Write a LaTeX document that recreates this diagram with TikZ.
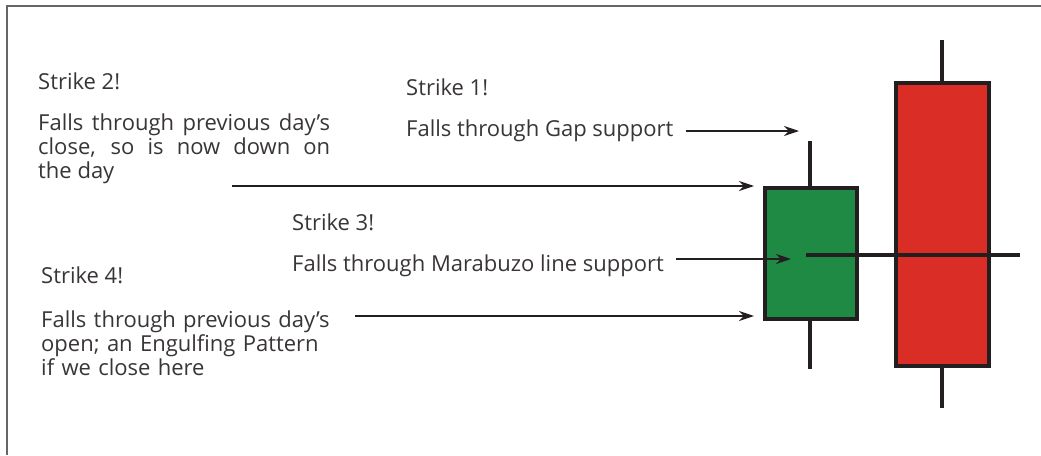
\documentclass[tikz,border=0pt]{standalone}
\usepackage{fontspec}
\setmainfont{Open Sans}
\usetikzlibrary{arrows.meta}
\definecolor{bull}{HTML}{1E8A44}
\definecolor{bear}{HTML}{D92D26}
\definecolor{ink}{HTML}{231F20}
\tikzstyle{lbl}=[anchor=base west, inner sep=0pt, text=ink!90, font=\fontsize{22}{24}\selectfont]
\tikzstyle{para}=[lbl, text width=292pt, align=justify]
\tikzstyle{ptr}=[draw=ink, line width=1.8pt, -{Stealth[length=15pt,width=10pt,inset=5pt]}]
\tikzstyle{body}=[draw=ink, line width=3.8pt]
\tikzstyle{wick}=[draw=ink, line width=3.5pt]

\begin{document}
\begin{tikzpicture}[x=1pt,y=-1pt]
    \useasboundingbox (0,0) rectangle (1041,455);
    % frame, top and left only
    \draw [gray!80!black, line width=1.8pt] (7,455) -- (7,6) -- (1041,6);

    % candles
    \draw [wick] (810,141) -- (810,369);
    \draw [body, fill=bull] (765,188) rectangle (857,319);
    \draw [wick] (942,40) -- (942,408);
    \draw [body, fill=bear] (896,83) rectangle (989,366);
    \draw [wick, line width=4pt] (806,255) -- (1020,255);

    \node [lbl]  (S2)  at (38,89)   {Strike 2!};
    \node [para] (S2t) at (38,130)  {Falls through previous day's\linebreak close, so is now down on\linebreak the day};
    \node [lbl]  (S1)  at (406,95)  {Strike 1!};
    \node [lbl]  (S1t) at (406,136) {Falls through Gap support};
    \node [lbl]  (S3)  at (292,230) {Strike 3!};
    \node [lbl]  (S3t) at (292,271) {Falls through Marabuzo line support};
    \node [lbl]  (S4)  at (41,283)  {Strike 4!};
    \node [para, align=left] (S4t) at (41,327) {Falls through previous day's\\ open; an Engulfing Pattern\\ if we close here};

    \coordinate (gap)   at (799,131);
    \coordinate (close) at (754,186);
    \coordinate (mara)  at (791,259);
    \coordinate (open)  at (754,316);
    \coordinate (from2) at (232,186);
    \coordinate (from4) at (355,316);

    \path ([xshift=12pt]S1t.east |- gap) edge [ptr] (gap)
          (from2) edge [ptr] (close)
          ([xshift=12pt]S3t.east |- mara) edge [ptr] (mara)
          (from4) edge [ptr] (open);
\end{tikzpicture}
\end{document}
